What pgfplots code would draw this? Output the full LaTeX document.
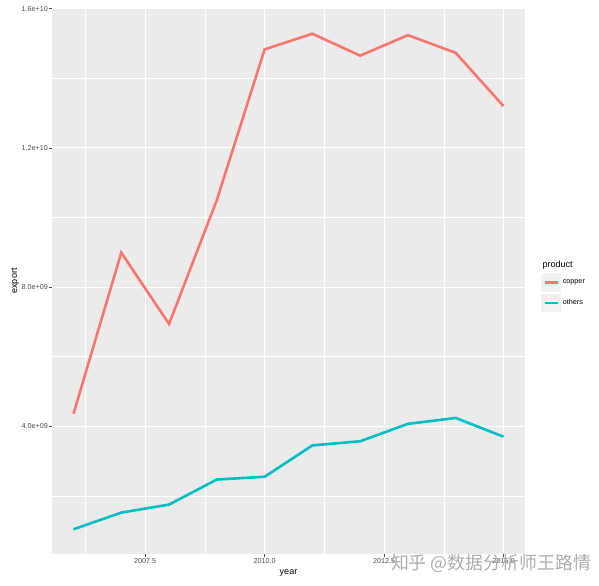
\documentclass[border=0pt]{standalone}
\usepackage{pgfplots}
\pgfplotsset{compat=1.18}
\usepackage{fontspec}
\setmainfont{Liberation Sans}
\newfontfamily\cjk{Noto Sans CJK SC}
\definecolor{ggbg}{HTML}{EBEBEB}
\definecolor{ggtick}{HTML}{4D4D4D}
\definecolor{ggkey}{HTML}{F2F2F2}
\definecolor{copper}{HTML}{F8766D}
\definecolor{others}{HTML}{00BFC4}
\pgfplotstableread{
year copper others
2006 4.36e9 1.04e9
2007 8.99e9 1.52e9
2008 6.94e9 1.75e9
2009 10.50e9 2.47e9
2010 14.83e9 2.55e9
2011 15.28e9 3.45e9
2012 14.65e9 3.57e9
2013 15.24e9 4.07e9
2014 14.73e9 4.24e9
2015 13.20e9 3.70e9
}\datatable
\begin{document}
\begin{tikzpicture}
\begin{axis}[
  scale only axis,
  width=473pt, height=546pt,
  xmin=2005.55, xmax=2015.45,
  ymin=0.33e9, ymax=1.602e10,
  axis background/.style={fill=ggbg},
  axis line style={draw=none},
  tick pos=left,
  tick align=outside,
  major tick length=3pt,
  minor tick length=0pt,
  every tick/.style={ggtick, line width=0.5pt},
  xtick={2007.5,2010,2012.5,2015},
  xticklabels={2007.5,2010.0,2012.5,2015.0},
  minor xtick={2006.25,2008.75,2011.25,2013.75},
  ytick={4e9,8e9,1.2e10,1.6e10},
  yticklabels={4.0e+09,8.0e+09,1.2e+10,1.6e+10},
  minor ytick={2e9,6e9,1e10,1.4e10},
  scaled y ticks=false,
  scaled x ticks=false,
  grid=both,
  major grid style={white, line width=1pt},
  minor grid style={white, line width=0.5pt},
  ticklabel style={font=\fontsize{7.2}{8}\selectfont, text=ggtick, inner sep=1pt},
  /pgf/number format/assume math mode=true,
  xlabel={year}, ylabel={export},
  label style={font=\fontsize{9}{10}\selectfont},
  xlabel style={yshift=-2pt},
  ylabel style={yshift=-2pt},
  legend style={at={(1.034,0.5147)}, anchor=north west, draw=none, fill=none,
    font=\fontsize{7.2}{8}\selectfont, row sep=2pt, inner sep=0pt},
  legend cell align=left,
  legend image code/.code={
    \fill[ggkey] (0pt,-8pt) rectangle (17pt,8pt);
    \draw[#1] (2pt,0pt) -- (15pt,0pt);
  },
]
\addplot[copper, line width=2.6pt] table[x=year, y=copper] {\datatable};
\addlegendentry{copper}
\addplot[others, line width=2.6pt] table[x=year, y=others] {\datatable};
\addlegendentry{others}
\end{axis}
\node[anchor=base west, font=\fontsize{9}{10}\selectfont] at ([xshift=14pt,yshift=13pt]current axis.east) {product};
\node[font=\cjk\fontsize{17.9}{19}\selectfont, text=black!32] at ([xshift=-34pt,yshift=-10pt]current axis.south east) {知乎 @数据分析师王路情};
\path ([shift={(-52pt,-31pt)}]current axis.south west) rectangle ([shift={(74pt,8pt)}]current axis.north east);
\end{tikzpicture}
\end{document}
